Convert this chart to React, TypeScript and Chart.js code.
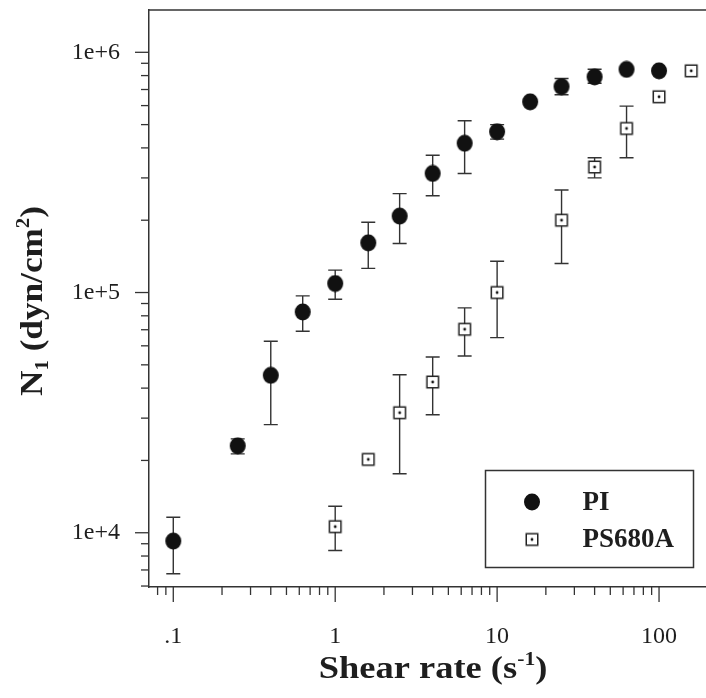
import React, { useEffect, useRef } from 'react';
import { Chart, registerables } from 'chart.js';

Chart.register(...registerables);

// ---- data ----
const shearPI = [0.1, 0.25, 0.4, 0.63, 1, 1.6, 2.5, 4, 6.3, 10, 16, 25, 40, 63, 100];
const n1PI = [9230, 23000, 45200, 83000, 109000, 161000, 208000, 313000, 418000, 467000, 622000, 720000, 790000, 849000, 837000];
const n1PILow = [6750, 21300, 28200, 69000, 93800, 126000, 160000, 253000, 313000, 435000, null, 666000, 743000, null, null];
const n1PIHigh = [11600, 24600, 62700, 96800, 124000, 196000, 258000, 373000, 519000, 500000, null, 778000, 850000, null, null];

const shearPS = [1, 1.6, 2.5, 4, 6.3, 10, 25, 40, 63, 100, 158];
const n1PS = [10600, 20200, 31600, 42400, 70300, 100000, 200000, 333000, 482000, 653000, 837000];
const n1PSLow = [8440, null, 17600, 31000, 54400, 64900, 132000, 300000, 364000, null, null];
const n1PSHigh = [12900, null, 45500, 53900, 86300, 135000, 267000, 364000, 597000, null, null];

const seriesNames = ['PI', 'PS680A'];

const xMajorTicks = [0.1, 1, 10, 100];
const xTickLabels = ['.1', '1', '10', '100'];
const yMajorTicks = [1e4, 1e5, 1e6];
const yTickLabels = ['1e+4', '1e+5', '1e+6'];

const xTitle = 'Shear rate (s';
const xTitleSup = '-1';
const yTitleMain = 'N';
const yTitleSub = '1';
const yTitleMid = ' (dyn/cm';
const yTitleSup = '2';

const X_MIN = 0.0708;
const X_MAX = 195;
const Y_MIN = 5945;
const Y_MAX = 1.5e6;

const INK = '#1e1e1e';
const LINE = '#333333';

function logTicks(min: number, max: number, majors: number[]) {
  const out: { value: number; major: boolean }[] = [];
  const lo = Math.floor(Math.log10(min));
  const hi = Math.ceil(Math.log10(max));
  for (let e = lo; e <= hi; e++) {
    for (let m = 1; m <= 9; m++) {
      const v = parseFloat((m * Math.pow(10, e)).toPrecision(6));
      if (v < min * 0.999 || v > max * 1.001) continue;
      out.push({ value: v, major: majors.some((t) => Math.abs(t - v) / t < 1e-6) });
    }
  }
  return out;
}

function labelFor(v: number, majors: number[], labels: string[]) {
  const i = majors.findIndex((t) => Math.abs(t - v) / t < 1e-6);
  return i >= 0 ? labels[i] : '';
}

function makeCircle() {
  const c = document.createElement('canvas');
  c.width = 18;
  c.height = 18;
  const g = c.getContext('2d')!;
  g.fillStyle = '#111';
  g.beginPath();
  g.ellipse(9, 9, 8, 8.5, 0, 0, Math.PI * 2);
  g.fill();
  return c;
}

function makeSquare() {
  const c = document.createElement('canvas');
  c.width = 16;
  c.height = 16;
  const g = c.getContext('2d')!;
  g.fillStyle = '#fff';
  g.fillRect(2, 2, 12, 12);
  g.strokeStyle = '#222';
  g.lineWidth = 1.5;
  g.strokeRect(2.25, 2.25, 11.5, 11.5);
  g.fillStyle = '#111';
  g.beginPath();
  g.arc(8, 8, 1.4, 0, Math.PI * 2);
  g.fill();
  return c;
}

type Part = { t: string; size: number; dy: number };

function drawRich(ctx: CanvasRenderingContext2D, parts: Part[], stretch: number) {
  let total = 0;
  const widths = parts.map((p) => {
    ctx.font = `bold ${p.size}px "Liberation Serif", "Times New Roman", serif`;
    const w = ctx.measureText(p.t).width;
    total += w;
    return w;
  });
  ctx.save();
  ctx.scale(stretch, 1);
  let x = -total / 2;
  parts.forEach((p, i) => {
    ctx.font = `bold ${p.size}px "Liberation Serif", "Times New Roman", serif`;
    ctx.textAlign = 'left';
    ctx.textBaseline = 'alphabetic';
    ctx.fillText(p.t, x, p.dy);
    x += widths[i];
  });
  ctx.restore();
}

function zeroPad(s: any) {
  s.paddingTop = 0;
  s.paddingBottom = 0;
  s.paddingLeft = 0;
  s.paddingRight = 0;
}

export default function App() {
  const ref = useRef<HTMLCanvasElement | null>(null);

  useEffect(() => {
    if (!ref.current) return;
    const circle = makeCircle();
    const square = makeSquare();
    const lows = [n1PILow, n1PSLow];
    const highs = [n1PIHigh, n1PSHigh];
    const xs = [shearPI, shearPS];
    const markers = [circle, square];

    const decor = {
      id: 'decor',
      beforeDatasetsDraw(chart: any) {
        const ctx = chart.ctx as CanvasRenderingContext2D;
        const sx = chart.scales.x;
        const sy = chart.scales.y;
        ctx.save();
        ctx.strokeStyle = LINE;
        ctx.lineWidth = 1.4;
        for (let d = 0; d < 2; d++) {
          xs[d].forEach((xv, j) => {
            const lo = lows[d][j];
            const hi = highs[d][j];
            if (lo == null || hi == null) return;
            const px = sx.getPixelForValue(xv);
            const p1 = sy.getPixelForValue(lo);
            const p2 = sy.getPixelForValue(hi);
            ctx.beginPath();
            ctx.moveTo(px, p1);
            ctx.lineTo(px, p2);
            ctx.moveTo(px - 7, p1);
            ctx.lineTo(px + 7, p1);
            ctx.moveTo(px - 7, p2);
            ctx.lineTo(px + 7, p2);
            ctx.stroke();
          });
        }
        ctx.restore();
      },
      afterDraw(chart: any) {
        const ctx = chart.ctx as CanvasRenderingContext2D;
        const { left, right, top, bottom } = chart.chartArea;
        const sx = chart.scales.x;
        const sy = chart.scales.y;
        ctx.save();
        ctx.strokeStyle = LINE;
        ctx.lineWidth = 1.5;
        ctx.beginPath();
        ctx.moveTo(left, top);
        ctx.lineTo(right, top);
        ctx.stroke();
        ctx.lineWidth = 1.3;
        sx.ticks.forEach((t: any) => {
          const px = sx.getPixelForValue(t.value);
          if (px < left - 0.5 || px > right + 0.5) return;
          const len = t.major ? 15 : 8;
          ctx.beginPath();
          ctx.moveTo(px, bottom);
          ctx.lineTo(px, bottom + len);
          ctx.stroke();
        });
        sy.ticks.forEach((t: any) => {
          const py = sy.getPixelForValue(t.value);
          if (py < top - 0.5 || py > bottom + 0.5) return;
          const len = t.major ? 14 : 8;
          ctx.beginPath();
          ctx.moveTo(left, py);
          ctx.lineTo(left - len, py);
          ctx.stroke();
        });
        ctx.restore();

        ctx.save();
        ctx.fillStyle = INK;
        ctx.translate(433, 678);
        drawRich(
          ctx,
          [
            { t: xTitle, size: 32, dy: 0 },
            { t: xTitleSup, size: 19, dy: -13 },
            { t: ')', size: 32, dy: 0 },
          ],
          1.14
        );
        ctx.restore();

        ctx.save();
        ctx.fillStyle = INK;
        ctx.translate(42, 301);
        ctx.rotate(-Math.PI / 2);
        drawRich(
          ctx,
          [
            { t: yTitleMain, size: 32, dy: 0 },
            { t: yTitleSub, size: 19, dy: 6 },
            { t: yTitleMid, size: 32, dy: 0 },
            { t: yTitleSup, size: 19, dy: -13 },
            { t: ')', size: 32, dy: 0 },
          ],
          1.1
        );
        ctx.restore();

        ctx.save();
        ctx.strokeStyle = LINE;
        ctx.lineWidth = 1.5;
        ctx.fillStyle = '#fff';
        ctx.fillRect(485.5, 470.5, 208, 97);
        ctx.strokeRect(485.5, 470.5, 208, 97);
        const rowsY = [502, 539.5];
        markers.forEach((m, i) => {
          ctx.drawImage(m, 532 - m.width / 2, rowsY[i] - m.height / 2);
        });
        ctx.fillStyle = INK;
        ctx.font = 'bold 27px "Liberation Serif", "Times New Roman", serif';
        ctx.textAlign = 'left';
        ctx.textBaseline = 'middle';
        seriesNames.forEach((n, i) => ctx.fillText(n, 582.5, rowsY[i] + 1));
        ctx.restore();
      },
    };

    const tickFont = { family: '"Liberation Serif", "Times New Roman", serif', size: 24 };

    const chart = new Chart(ref.current, {
      type: 'scatter',
      data: {
        datasets: [
          {
            label: seriesNames[0],
            data: shearPI.map((x, i) => ({ x, y: n1PI[i] })),
            pointStyle: circle as any,
            pointRadius: 9,
            showLine: false,
          },
          {
            label: seriesNames[1],
            data: shearPS.map((x, i) => ({ x, y: n1PS[i] })),
            pointStyle: square as any,
            pointRadius: 8,
            showLine: false,
          },
        ],
      },
      options: {
        animation: false,
        responsive: false,
        devicePixelRatio: 1,
        layout: { autoPadding: false, padding: { top: 10, right: 0, left: 0, bottom: 0 } },
        plugins: {
          legend: { display: false },
          tooltip: { enabled: false },
        },
        scales: {
          x: {
            type: 'logarithmic',
            min: X_MIN,
            max: X_MAX,
            position: 'bottom',
            afterBuildTicks: (s: any) => {
              s.ticks = logTicks(X_MIN, X_MAX, xMajorTicks);
            },
            afterFit: (s: any) => {
              s.height = 111;
              zeroPad(s);
            },
            grid: { display: false },
            border: { display: true, color: LINE, width: 1.5 },
            ticks: {
              autoSkip: false,
              maxRotation: 0,
              minRotation: 0,
              padding: 27,
              color: INK,
              font: tickFont,
              callback: (v: any) => labelFor(Number(v), xMajorTicks, xTickLabels),
            },
          },
          y: {
            type: 'logarithmic',
            min: Y_MIN,
            max: Y_MAX,
            afterBuildTicks: (s: any) => {
              s.ticks = logTicks(Y_MIN, Y_MAX, yMajorTicks);
            },
            afterFit: (s: any) => {
              s.width = 149;
              zeroPad(s);
            },
            grid: { display: false },
            border: { display: true, color: LINE, width: 1.5 },
            ticks: {
              autoSkip: false,
              padding: 21,
              color: INK,
              font: tickFont,
              callback: (v: any) => labelFor(Number(v), yMajorTicks, yTickLabels),
            },
          },
        },
      },
      plugins: [decor],
    });

    return () => chart.destroy();
  }, []);

  return (
    <div style={{ position: 'absolute', left: 0, top: 0, width: 706, height: 698, background: '#fff' }}>
      <canvas ref={ref} width={706} height={698} style={{ display: 'block' }} />
    </div>
  );
}
